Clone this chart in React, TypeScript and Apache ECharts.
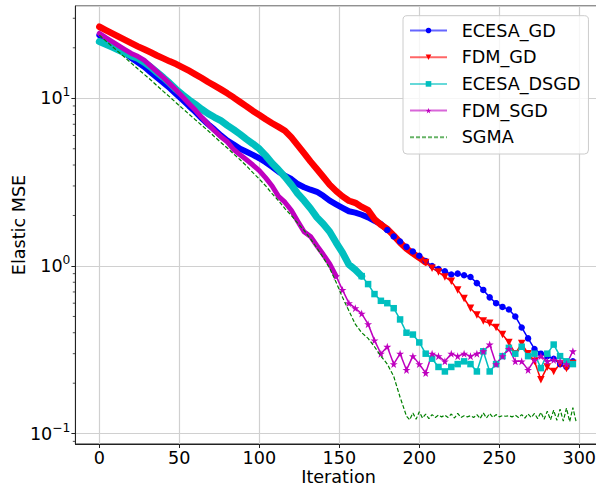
import React, { useEffect, useRef } from 'react';
import * as echarts from 'echarts';

const ITERATIONS = [
  0, 4, 8, 12, 16, 20, 24, 28, 32, 36,
  40, 44, 48, 52, 56, 60, 64, 68, 72, 76,
  80, 84, 88, 92, 96, 100, 104, 108, 112, 116,
  120, 124, 128, 132, 136, 140, 144, 148, 152, 156,
  160, 164, 168, 172, 176, 180, 184, 188, 192, 196,
  200, 204, 208, 212, 216, 220, 224, 228, 232, 236,
  240, 244, 248, 252, 256, 260, 264, 268, 272, 276,
  280, 284, 288, 292, 296,
];

const ECESA_GD = [
  23.8, 22.5, 21.0, 19.8, 18.6, 17.4, 16.4, 15.4, 14.3, 13.3,
  12.4, 11.5, 10.6, 9.8, 9.0, 8.3, 7.6, 7.0, 6.5, 6.0,
  5.6, 5.3, 5.0, 4.8, 4.6, 4.39, 4.15, 3.9, 3.65, 3.45,
  3.3, 3.08, 2.95, 2.85, 2.77, 2.62, 2.45, 2.33, 2.22, 2.12,
  2.08, 2.02, 1.95, 1.86, 1.78, 1.64, 1.5, 1.4, 1.3, 1.22,
  1.15, 1.07, 1.0, 0.96, 0.93, 0.89, 0.9, 0.88, 0.86, 0.79,
  0.72, 0.65, 0.6, 0.57, 0.55, 0.5, 0.43, 0.37, 0.32, 0.3,
  0.29, 0.28, 0.26, 0.25, 0.27,
];

const FDM_GD = [
  26.7, 25.5, 24.4, 23.3, 22.3, 21.3, 20.4, 19.6, 18.8, 18.0,
  17.3, 16.6, 16.0, 15.3, 14.6, 13.9, 13.2, 12.5, 11.9, 11.3,
  10.7, 10.1, 9.5, 8.95, 8.4, 7.95, 7.5, 7.1, 6.75, 6.4,
  5.85, 5.25, 4.7, 4.2, 3.78, 3.4, 3.05, 2.8, 2.6, 2.45,
  2.38, 2.25, 2.15, 1.9, 1.76, 1.66, 1.52, 1.38, 1.27, 1.19,
  1.12, 1.05, 0.97, 0.92, 0.86, 0.81, 0.72, 0.64, 0.56, 0.51,
  0.47, 0.455, 0.43, 0.39, 0.35, 0.3, 0.345, 0.3, 0.27, 0.21,
  0.25, 0.235, 0.26, 0.245, 0.262,
];

const ECESA_DSGD = [
  21.8, 21.0, 20.2, 19.4, 18.6, 17.9, 17.3, 16.4, 15.4, 14.3,
  13.3, 12.3, 11.3, 10.5, 9.8, 9.2, 8.6, 8.1, 7.7, 7.35,
  6.9, 6.5, 6.1, 5.7, 5.35, 5.0, 4.55, 4.1, 3.75, 3.4,
  3.05, 2.7, 2.45, 2.2, 1.95, 1.78, 1.6, 1.38, 1.2, 1.02,
  0.95, 0.87, 0.78, 0.68, 0.62, 0.6, 0.56, 0.48, 0.4, 0.39,
  0.35, 0.3, 0.28, 0.25, 0.235, 0.25, 0.26, 0.27, 0.26, 0.235,
  0.31, 0.235, 0.26, 0.29, 0.325, 0.3, 0.33, 0.29, 0.3, 0.246,
  0.3, 0.34, 0.29, 0.27, 0.26,
];

const FDM_SGD = [
  24.4, 23.0, 21.8, 20.6, 19.5, 18.5, 17.8, 16.9, 15.6, 14.4,
  13.3, 12.2, 11.2, 10.2, 9.3, 8.5, 7.7, 7.0, 6.4, 5.9,
  5.5, 4.95, 4.6, 4.3, 4.0, 3.7, 3.35, 3.0, 2.6, 2.4,
  2.15, 1.85, 1.6, 1.5, 1.32, 1.17, 1.03, 0.87, 0.72, 0.6,
  0.56, 0.52, 0.45, 0.36, 0.3, 0.33, 0.26, 0.3, 0.24, 0.29,
  0.26, 0.23, 0.3, 0.29, 0.27, 0.3, 0.29, 0.3, 0.29, 0.3,
  0.31, 0.34, 0.26, 0.29, 0.32, 0.27, 0.27, 0.24, 0.275, 0.29,
  0.27, 0.275, 0.27, 0.26, 0.31,
];

const SGMA_ITERATIONS = [
  0, 4, 8, 12, 16, 20, 24, 28, 32, 36,
  40, 44, 48, 52, 56, 60, 64, 68, 72, 76,
  80, 84, 88, 92, 96, 100, 104, 108, 112, 116,
  120, 124, 128, 132, 136, 140, 144, 148, 152, 156,
  160, 164, 168, 172, 176, 180, 184, 188, 190, 192,
  194, 196, 198, 200, 202, 204, 206, 208, 210, 212,
  214, 216, 218, 220, 222, 224, 226, 228, 230, 232,
  234, 236, 238, 240, 242, 244, 246, 248, 250, 252,
  254, 256, 258, 260, 262, 264, 266, 268, 270, 272,
  274, 276, 278, 280, 282, 284, 286, 288, 290, 292,
  294, 296, 298,
];

const SGMA = [
  23.8, 22.0, 20.4, 18.9, 17.5, 16.2, 15.0, 13.9, 12.9, 11.9,
  11.0, 10.2, 9.4, 8.7, 8.05, 7.45, 6.9, 6.4, 5.9, 5.45,
  5.05, 4.65, 4.3, 3.95, 3.6, 3.3, 3.0, 2.7, 2.45, 2.2,
  2.0, 1.8, 1.63, 1.45, 1.28, 1.12, 0.97, 0.8, 0.65, 0.54,
  0.45, 0.4, 0.37, 0.33, 0.29, 0.26, 0.22, 0.165, 0.145, 0.127,
  0.121, 0.133, 0.122, 0.135, 0.124, 0.131, 0.123, 0.13, 0.125, 0.129,
  0.126, 0.129, 0.125, 0.131, 0.124, 0.132, 0.125, 0.128, 0.126, 0.128,
  0.125, 0.13, 0.123, 0.133, 0.124, 0.132, 0.125, 0.13, 0.126, 0.128,
  0.127, 0.128, 0.126, 0.129, 0.125, 0.13, 0.124, 0.131, 0.125, 0.132,
  0.123, 0.134, 0.122, 0.136, 0.121, 0.138, 0.12, 0.14, 0.119, 0.142,
  0.118, 0.143, 0.118,
];

const SERIES_NAMES = ['ECESA_GD', 'FDM_GD', 'ECESA_DSGD', 'FDM_SGD', 'SGMA'];
const X_TICKS = [0, 50, 100, 150, 200, 250, 300];

const FONT = 'DejaVu Sans';
const FS = 17.6;
const X_MIN = -14.95;
const X_MAX = 313.95;
const Y_MIN = 0.0868;
const Y_MAX = 35.5;

const STAR =
  'path://M0,-10L2.245,-3.09L9.51,-3.09L3.633,1.18L5.878,8.09L0,3.82L-5.878,8.09L-3.633,1.18L-9.51,-3.09L-2.245,-3.09Z';

const pairs = (xs: number[], ys: number[]) => xs.map((x, i) => [x, ys[i]]);

const SUP: Record<string, string> = { '-1': '−1', '0': '0', '1': '1' };

type Spec = {
  name: string;
  ys: number[];
  color: string;
  symbol: string;
  size: number;
  rotate: number;
  split: number; // index where the dense marker band gives way to single markers
  band: number; // visual thickness of the dense marker band
};

const SPECS: Spec[] = [
  { name: 'ECESA_GD', ys: ECESA_GD, color: '#0000ff', symbol: 'circle', size: 6.5, rotate: 0, split: 45, band: 6 },
  { name: 'FDM_GD', ys: FDM_GD, color: '#ff0000', symbol: 'triangle', size: 7.5, rotate: 180, split: 51, band: 6.5 },
  { name: 'ECESA_DSGD', ys: ECESA_DSGD, color: '#00bfbf', symbol: 'rect', size: 6.5, rotate: 0, split: 41, band: 7 },
  { name: 'FDM_SGD', ys: FDM_SGD, color: '#bf00bf', symbol: STAR, size: 8, rotate: 0, split: 37, band: 5 },
];

export default function App() {
  const ref = useRef<HTMLDivElement>(null);
  useEffect(() => {
    if (!ref.current) return;
    const chart = echarts.init(ref.current, null, { renderer: 'svg' });

    const markerSeries = SPECS.map((s) => ({
      name: s.name,
      type: 'line',
      data: pairs(ITERATIONS, s.ys).slice(s.split),
      symbol: s.symbol,
      symbolSize: s.size,
      symbolRotate: s.rotate,
      showAllSymbol: true,
      lineStyle: { color: s.color, width: 1.5 },
      itemStyle: { color: s.color, borderWidth: 0 },
      emphasis: { disabled: true },
      z: 2,
    }));
    const bandSeries = SPECS.map((s) => ({
      name: s.name,
      type: 'line',
      data: pairs(ITERATIONS, s.ys).slice(0, s.split + 1),
      symbol: 'none',
      lineStyle: { color: s.color, width: s.band, cap: 'round', join: 'round' },
      itemStyle: { color: s.color },
      emphasis: { disabled: true },
      z: 2,
    }));

    const option: any = {
      animation: false,
      backgroundColor: '#ffffff',
      textStyle: { fontFamily: FONT },
      grid: {
        left: 75.4,
        top: 6,
        width: 526.2,
        height: 438,
        show: true,
        borderColor: '#222',
        borderWidth: 1,
        containLabel: false,
        outerBoundsMode: 'none',
      },
      legend: {
        data: SERIES_NAMES.map((n) =>
          n === 'SGMA' ? { name: n, itemStyle: { opacity: 0 } } : { name: n }
        ),
        orient: 'vertical',
        left: 403,
        top: 15.7,
        itemWidth: 37,
        itemHeight: 7,
        itemGap: 6.7,
        padding: [4.8, 8, 6.7, 6],
        backgroundColor: 'rgba(255,255,255,0.8)',
        borderColor: '#cccccc',
        borderWidth: 1,
        borderRadius: 4,
        lineStyle: { opacity: 0.6 },
        selectedMode: false,
        z: 10,
        textStyle: {
          fontFamily: FONT,
          fontSize: FS,
          color: '#000',
          lineHeight: 20,
          padding: [0, 0, 0, 9.7],
        },
      },
      xAxis: {
        type: 'value',
        min: X_MIN,
        max: X_MAX,
        name: 'Iteration',
        nameLocation: 'middle',
        nameGap: 24,
        nameMoveOverlap: false,
        nameTextStyle: { fontFamily: FONT, fontSize: FS, color: '#000', lineHeight: 17.6 },
        axisLine: { show: true, onZero: false, lineStyle: { color: '#222', width: 1 } },
        axisTick: { show: true, length: 4, lineStyle: { color: '#222', width: 1 } },
        axisLabel: {
          showMinLabel: false,
          showMaxLabel: false,
          margin: 5,
          fontFamily: FONT,
          fontSize: FS,
          lineHeight: 17.6,
          color: '#000',
          formatter: (v: number) => (X_TICKS.includes(v) ? String(v) : ''),
        },
        splitLine: { show: true, lineStyle: { color: '#d0d0d0', width: 1.2 } },
      },
      yAxis: {
        type: 'log',
        logBase: 10,
        min: Y_MIN,
        max: Y_MAX,
        name: 'Elastic MSE',
        nameLocation: 'middle',
        nameGap: 47,
        nameMoveOverlap: false,
        nameTextStyle: { fontFamily: FONT, fontSize: FS, color: '#000' },
        axisLine: { show: true, onZero: false, lineStyle: { color: '#222', width: 1 } },
        axisTick: { show: true, length: 4, lineStyle: { color: '#222', width: 1 } },
        axisLabel: {
          showMinLabel: false,
          showMaxLabel: false,
          margin: 5,
          color: '#000',
          formatter: (v: number) => {
            const e = Math.log10(v);
            const r = Math.round(e);
            if (Math.abs(e - r) > 1e-6) return '';
            return '{b|10}{s|' + (SUP[String(r)] ?? String(r)) + '}';
          },
          rich: {
            b: { fontFamily: FONT, fontSize: FS, lineHeight: 24, color: '#000' },
            s: {
              fontFamily: FONT,
              fontSize: 12.3,
              lineHeight: 12,
              verticalAlign: 'top',
              color: '#000',
            },
          },
        },
        splitLine: { show: true, lineStyle: { color: '#d0d0d0', width: 1.2 } },
      },
      series: [
        ...markerSeries,
        ...bandSeries,
        {
          name: 'SGMA',
          type: 'line',
          data: pairs(SGMA_ITERATIONS, SGMA),
          symbol: 'none',
          lineStyle: { color: '#008000', width: 1.2, type: [4, 2] },
          itemStyle: { color: '#008000' },
          emphasis: { disabled: true },
          z: 3,
        },
      ],
    };
    chart.setOption(option);

    // minor ticks of the log axis (2..9 x 10^k)
    const minor: any[] = [];
    const x0 = chart.convertToPixel({ xAxisIndex: 0 }, X_MIN) as number;
    for (let k = -2; k <= 1; k++) {
      for (let m = 2; m <= 9; m++) {
        const v = m * Math.pow(10, k);
        if (v <= Y_MIN || v >= Y_MAX) continue;
        const y = chart.convertToPixel({ yAxisIndex: 0 }, v) as number;
        minor.push({
          type: 'line',
          shape: { x1: x0 - 2.6, y1: y, x2: x0, y2: y },
          style: { stroke: '#222', lineWidth: 0.8 },
          silent: true,
        });
      }
    }
    chart.setOption({ graphic: minor });
    return () => chart.dispose();
  }, []);
  return (
    <div
      ref={ref}
      style={{ position: 'fixed', left: 0, top: 0, width: 596, height: 486, background: '#fff' }}
    />
  );
}
